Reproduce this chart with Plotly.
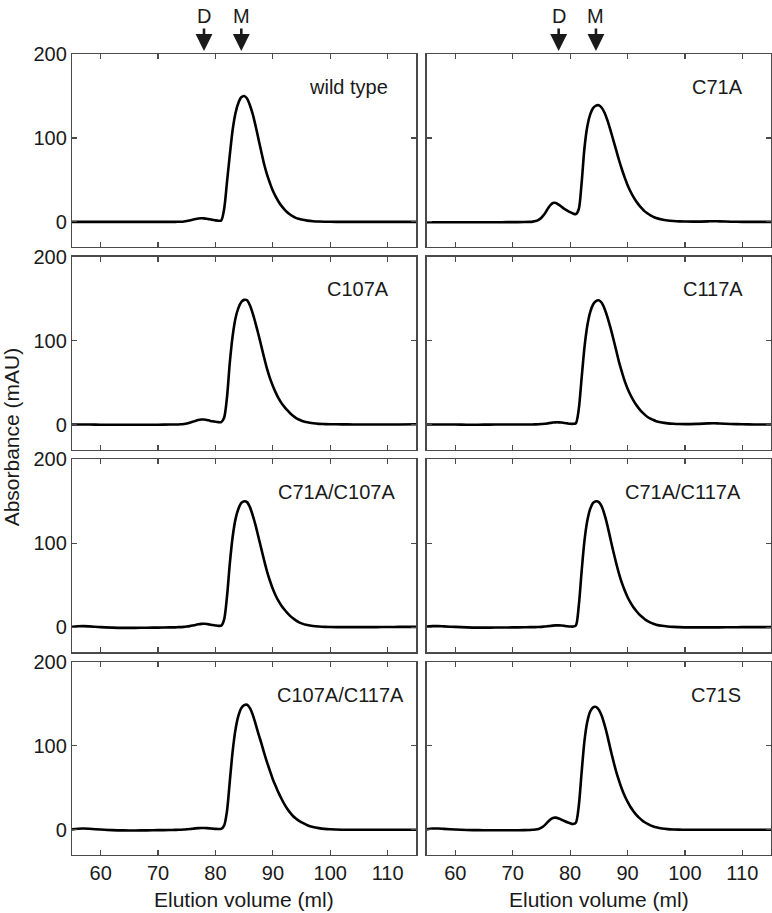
import plotly.graph_objects as go
from plotly.subplots import make_subplots

# ---------------- data ----------------
elution_ml = [55, 56, 57, 58, 60,
              62, 64, 66, 68, 70,
              72, 73, 73.5, 74, 74.5,
              75, 75.5, 76, 76.5, 77,
              77.5, 78, 78.5, 79, 79.5,
              80, 80.5, 81, 81.5, 82,
              82.5, 83, 83.5, 84, 84.5,
              85, 85.5, 86, 86.5, 87,
              87.5, 88, 88.5, 89, 89.5,
              90, 90.5, 91, 91.5, 92,
              92.5, 93, 93.5, 94, 94.5,
              95, 96, 97, 98, 99,
              100, 102, 104, 105, 106,
              108, 110, 112, 115]

abs_wild_type = [0, 0, 0, 0, 0,
                 0, 0, 0, 0, 0,
                 0, 0, 0.1, 0.2, 0.5,
                 1, 1.7, 2.5, 3.3, 4,
                 4.3, 4.2, 3.7, 3, 2.4,
                 1.8, 1.4, 1.6, 15, 47,
                 80, 110, 130, 142, 148.5,
                 150, 147, 139, 128, 114,
                 98.5, 83, 68, 56, 46,
                 37, 30, 24, 19, 15,
                 11.5, 8.7, 6.5, 4.8, 3.6,
                 2.7, 1.5, 0.8, 0.4, 0.2,
                 0.1, 0, 0, 0, 0,
                 0, 0, 0, 0]

abs_c71a = [-0.5, -0.5, -0.5, -0.5, -0.5,
            -0.5, -0.5, -0.5, -0.4, -0.3,
            -0.2, 0, 0.3, 1, 2.5,
            5, 9, 14.5, 19.5, 22.5,
            22.5, 20.5, 18, 15.5, 13.5,
            11.5, 10, 9.2, 15, 46,
            88, 114, 128, 135.5, 138.5,
            139, 136, 130, 121, 110,
            98, 86, 74, 63, 53,
            44, 36.5, 30, 24.5, 20,
            16, 12.5, 10, 7.8, 6,
            4.6, 2.7, 1.6, 1, 0.6,
            0.4, 0.3, 0.6, 0.8, 0.6,
            0.2, 0, 0, 0]

abs_c107a = [0, 0, 0, 0, -0.2,
             -0.3, -0.3, -0.3, -0.2, -0.2,
             0, 0, 0.1, 0.3, 0.7,
             1.3, 2.2, 3.2, 4.3, 5.3,
             5.9, 6, 5.5, 4.6, 3.8,
             3.2, 2.8, 2.8, 8, 32,
             74, 106, 127, 139, 146,
             148.5, 148, 142, 132, 120,
             107, 93, 79, 66, 55,
             46, 38, 31, 25.5, 21,
             17, 13.5, 10.5, 8, 6,
             4.6, 2.6, 1.5, 0.8, 0.5,
             0.3, 0.2, 0.1, 0, 0,
             0, 0, 0.1, 0.3]

abs_c117a = [0, 0, 0, 0, 0,
             -0.2, -0.2, -0.1, 0, 0,
             0, 0, 0.1, 0.2, 0.3,
             0.6, 0.9, 1.3, 1.8, 2.3,
             2.6, 2.6, 2.3, 1.8, 1.4,
             1, 0.8, 1.5, 18, 55,
             92, 118, 134, 143, 147,
             148, 145, 138, 128, 116,
             103, 89, 75, 63, 52,
             43, 35.5, 29, 23.5, 19,
             15, 11.8, 9, 7, 5.3,
             4, 2.3, 1.4, 0.9, 0.6,
             0.5, 0.7, 1.3, 1.5, 1.2,
             0.6, 0.3, 0.1, 0]

abs_c71a_c107a = [0.5, 1, 1.2, 0.9, 0,
                  -0.5, -0.8, -0.8, -0.6, -0.5,
                  -0.3, -0.2, 0, 0.1, 0.3,
                  0.7, 1.2, 1.9, 2.7, 3.4,
                  3.9, 4, 3.7, 3.1, 2.5,
                  2, 1.6, 1.8, 9, 36,
                  76, 108, 129, 141, 148,
                  150, 149, 143, 133, 121,
                  107, 93, 79, 66, 55,
                  45.5, 37.5, 31, 25.5, 21,
                  17, 13.5, 10.5, 8, 6,
                  4.5, 2.5, 1.4, 0.8, 0.4,
                  0.2, 0, 0, 0, 0,
                  0.1, 0.2, 0.3, 0.3]

abs_c71a_c117a = [0.8, 1.2, 1.2, 0.9, 0.3,
                  -0.2, -0.5, -0.5, -0.4, -0.3,
                  -0.1, 0, 0, 0.1, 0.2,
                  0.4, 0.7, 1, 1.4, 1.8,
                  2.1, 2.1, 1.9, 1.5, 1.1,
                  0.8, 0.7, 2, 25, 66,
                  103, 127, 141, 148, 150,
                  149, 144, 134, 121, 106,
                  91, 77, 64, 53, 44,
                  36, 29.5, 24, 19.5, 15.5,
                  12.3, 9.5, 7.3, 5.5, 4.1,
                  3, 1.6, 0.8, 0.3, 0,
                  -0.2, -0.3, -0.3, -0.3, -0.2,
                  -0.1, 0, 0, 0]

abs_c107a_c117a = [0.5, 1.3, 1.5, 1.2, 0.3,
                   -0.4, -0.7, -0.8, -0.6, -0.4,
                   -0.2, -0.1, 0, 0.1, 0.3,
                   0.6, 0.9, 1.3, 1.7, 2,
                   2.2, 2.2, 2, 1.7, 1.4,
                   1.1, 1, 1.2, 5, 22,
                   58, 94, 120, 136, 145,
                   148.5, 149, 145, 137, 126,
                   114, 103, 91, 80, 70,
                   60, 52, 44, 37, 30.5,
                   25, 20.5, 16.5, 13.5, 11,
                   9, 5.5, 3.3, 2, 1.1,
                   0.6, 0.1, 0, 0, 0,
                   0, 0, 0, 0]

abs_c71s = [0.5, 1.5, 1.5, 1.1, 0.3,
            -0.2, -0.4, -0.5, -0.5, -0.5,
            -0.4, -0.2, 0, 0.3, 1,
            2.5, 5, 8.5, 12, 14.2,
            14.5, 13.5, 12, 10.5, 9,
            7.8, 7, 8.5, 28, 68,
            106, 129, 141, 146, 146.5,
            143, 136, 125, 112, 97,
            83, 70, 59, 49, 40.5,
            33.5, 27.5, 22.5, 18, 14.5,
            11.5, 9, 7, 5.3, 4,
            3, 1.6, 0.8, 0.4, 0.2,
            0.1, 0, 0, 0, 0,
            0, 0, 0, 0]

panel_names = ["wild type", "C71A", "C107A", "C117A",
               "C71A/C107A", "C71A/C117A", "C107A/C117A", "C71S"]
panel_series = [abs_wild_type, abs_c71a, abs_c107a, abs_c117a,
                abs_c71a_c107a, abs_c71a_c117a, abs_c107a_c117a, abs_c71s]

marker_labels = ["D", "M"]
marker_volumes = [78.0, 84.5]

x_ticks = [60, 70, 80, 90, 100, 110]
y_ticks = [0, 100, 200]

# ---------------- style ----------------
FONT = "Liberation Sans, Arial, Helvetica, sans-serif"
AXIS_COLOR = "#4a4a4a"
TEXT_COLOR = "#1a1a1a"
label_right = [0.922, 0.925, 0.925, 0.925, 0.945, 0.920, 0.969, 0.920]

fig = make_subplots(rows=4, cols=2, horizontal_spacing=0.0147,
                    vertical_spacing=0.012)

for i, (name, ys) in enumerate(zip(panel_names, panel_series)):
    r, c = i // 2 + 1, i % 2 + 1
    fig.add_trace(go.Scatter(x=elution_ml, y=ys, mode="lines",
                             line=dict(color="black", width=2.6,
                                       shape="spline", smoothing=0.8),
                             showlegend=False, hoverinfo="skip"),
                  row=r, col=c)
    fig.update_xaxes(range=[55, 115], tickvals=x_ticks,
                     showticklabels=(r == 4),
                     showline=True, mirror="ticks", linecolor=AXIS_COLOR,
                     linewidth=1.2, ticks="inside", ticklen=5,
                     tickcolor=AXIS_COLOR, tickwidth=1.2,
                     showgrid=False, zeroline=False,
                     tickfont=dict(family=FONT, size=20, color=TEXT_COLOR),
                     row=r, col=c)
    fig.update_yaxes(range=[-30, 200], tickvals=y_ticks,
                     showticklabels=(c == 1),
                     showline=True, mirror="ticks", linecolor=AXIS_COLOR,
                     linewidth=1.2, ticks="inside", ticklen=5,
                     tickcolor=AXIS_COLOR, tickwidth=1.2,
                     showgrid=False, zeroline=False,
                     tickfont=dict(family=FONT, size=20, color=TEXT_COLOR),
                     row=r, col=c)
    suffix = "" if i == 0 else str(i + 1)
    fig.add_annotation(text=name, xref=f"x{suffix} domain",
                       yref=f"y{suffix} domain", x=label_right[i], y=0.83,
                       xanchor="right", yanchor="middle", showarrow=False,
                       font=dict(family=FONT, size=20, color=TEXT_COLOR))

# D / M arrows above the top row
for col_suffix in ["", "2"]:
    for lab, vol in zip(marker_labels, marker_volumes):
        fig.add_annotation(text=lab, x=vol, xref=f"x{col_suffix}",
                           y=1.0, yref=f"y{col_suffix} domain",
                           ax=0, ay=-38, showarrow=True, arrowhead=2,
                           arrowsize=1.3, arrowwidth=2.6, arrowcolor=TEXT_COLOR,
                           standoff=3,
                           font=dict(family=FONT, size=20, color=TEXT_COLOR))

# axis titles
for xc in [0.2462, 0.7538]:
    fig.add_annotation(text="Elution volume (ml)", xref="paper", yref="paper",
                       x=xc, y=-0.056, xanchor="center", yanchor="middle",
                       showarrow=False,
                       font=dict(family=FONT, size=21, color=TEXT_COLOR))
fig.add_annotation(text="Absorbance (mAU)", xref="paper", yref="paper",
                   x=-0.0866, y=0.522, xanchor="center", yanchor="middle",
                   textangle=-90, showarrow=False,
                   font=dict(family=FONT, size=21, color=TEXT_COLOR))

fig.update_layout(width=772, height=913,
                  margin=dict(l=72, r=1, t=54, b=58),
                  plot_bgcolor="white", paper_bgcolor="white",
                  font=dict(family=FONT, color=TEXT_COLOR))

# remove the default 8px page margin so the figure fills the window
fig.write_html("out.html",
               config={"displayModeBar": False, "staticPlot": True},
               post_script="document.body.style.margin='0';"
                           "document.body.style.overflow='hidden';")
